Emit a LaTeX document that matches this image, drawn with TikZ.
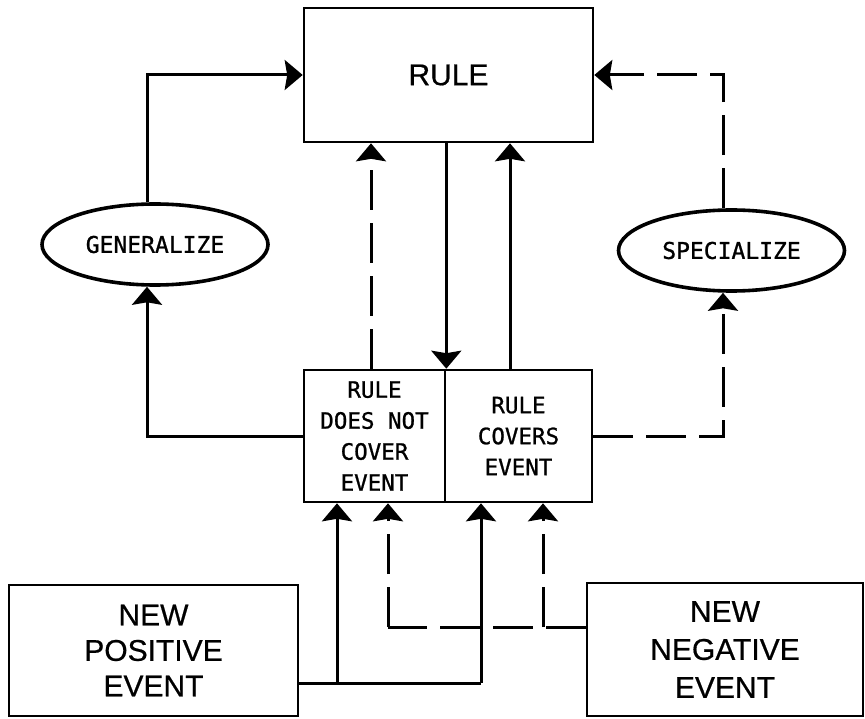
\documentclass[tikz,border=0pt]{standalone}
\usepackage{fontspec}
\setmainfont{Liberation Sans}[FakeBold=0.6]
\newfontfamily\dotfont{DejaVu Sans Mono}[FakeBold=1]
\usetikzlibrary{arrows.meta,shapes.geometric}
\begin{document}
\begin{tikzpicture}[x=1pt,y=-1pt,
  box/.style={draw,line width=2.6pt,rectangle,inner sep=0pt,align=center},
  oval/.style={draw,ellipse,line width=3.6pt,inner sep=0pt,minimum width=226pt,minimum height=81pt,font=\dotfont\fontsize{23}{28}\selectfont},
  conn/.style={line width=3pt},
  dconn/.style={conn,dash pattern=on 40pt off 13pt},
  tip/.style={-{Stealth[length=18pt,width=30pt,inset=2.5pt]}},
  cell/.style={box,minimum height=132pt,font=\dotfont\fontsize{22.5}{31}\selectfont}]
\useasboundingbox (0,0) rectangle (865,719);
\fill[white] (0,0) rectangle (865,719);

\node[box,font=\fontsize{30}{36}\selectfont,minimum width=289pt,minimum height=134pt] (rule) at (448.5,75) {RULE};
\node[oval] (gen) at (155,244.5) {GENERALIZE};
\node[oval] (spec) at (731.5,250.5) {SPECIALIZE};
\node[cell,minimum width=141pt] (lc) at (374.5,436) {RULE\\DOES NOT\\COVER\\EVENT};
\node[cell,minimum width=147pt] (rc) at (518.5,436) {RULE\\COVERS\\EVENT};
\node[box,minimum width=289pt,minimum height=131pt,font=\fontsize{30}{35.5}\selectfont] (pos) at (153.5,650.5) {NEW\\POSITIVE\\EVENT};
\node[box,minimum width=276pt,minimum height=133pt,font=\fontsize{30}{38}\selectfont] (neg) at (725,649.5) {NEW\\NEGATIVE\\EVENT};

\coordinate (xA) at (371,0);
\coordinate (xB) at (510,0);
\coordinate (xG) at (147,0);
\coordinate (xS) at (723,0);
\coordinate (pL) at (337,683);
\coordinate (pR) at (481,683);
\coordinate (nL) at (388,627);
\coordinate (nR) at (543,627);

\draw[conn,tip] (xG |- gen.north) |- (rule.west);
\draw[conn,tip] (lc.west) -| (xG |- gen.south);
\draw[dconn,tip] (xA |- lc.north) -- (xA |- rule.south);
\draw[conn,tip] (rule.south -| lc.north east) -- (lc.north east);
\draw[conn,tip] (xB |- rc.north) -- (xB |- rule.south);
\draw[dconn,tip] (xS |- spec.north) |- (rule.east);
\draw[dconn,tip] (rc.east) -| (xS |- spec.south);
\draw[conn] (pos.east |- pL) -- (pR);
\draw[conn,tip] (pL) -- (pL |- lc.south);
\draw[conn,tip] (pR) -- (pR |- rc.south);
\draw[dconn] (neg.west |- nL) -- (nL);
\draw[dconn,tip] (nL) -- (nL |- lc.south);
\draw[dconn,tip] (nR) -- (nR |- rc.south);
\end{tikzpicture}
\end{document}
